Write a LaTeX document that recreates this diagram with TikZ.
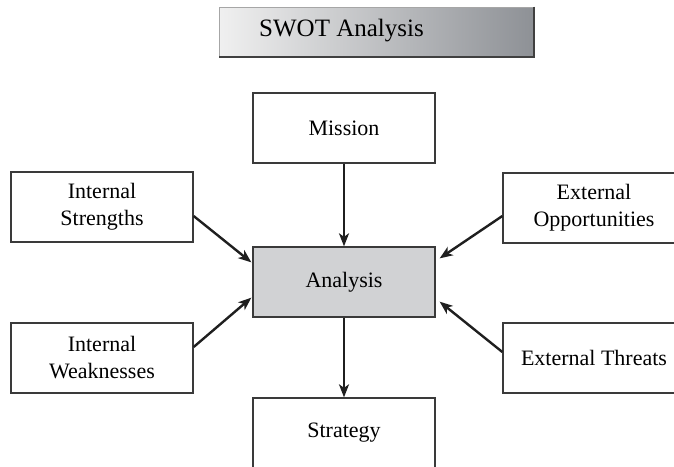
\documentclass[tikz,border=0pt]{standalone}
\usepackage{fontspec}
\setmainfont{Liberation Serif}
\usetikzlibrary{arrows.meta,positioning}
\definecolor{keret}{HTML}{3A3A3A}
\definecolor{elemzes}{HTML}{D1D2D4}
\definecolor{cimbal}{HTML}{F0F0F0}
\definecolor{cimjobb}{HTML}{8E9196}
\tikzset{
  doboz/.style={draw=keret,line width=1.3pt,fill=white,minimum width=182pt,
    minimum height=70pt,inner sep=0pt,align=center,
    font=\fontsize{22}{27}\selectfont},
  kozep/.style={doboz,fill=elemzes},
  cim/.style={draw=gray!70,line width=1pt,left color=cimbal,right color=cimjobb,
    minimum width=314pt,minimum height=49pt,inner sep=0pt},
  nyilas/.style={line width=2.4pt,draw=black!88,
    -{Stealth[length=13pt,width=10pt,inset=3.5pt]}},
}
\begin{document}
\begin{tikzpicture}[x=1pt,y=-1pt]
  \useasboundingbox (0,0) rectangle (674,466);
  \clip (0,0) rectangle (674,466);
  % cim
  \node[cim] (cimdoboz) at (376,31.5) {};
  \draw[line width=2pt,draw=black!75] (cimdoboz.north east) -- (cimdoboz.south east)
    -- (cimdoboz.south west);
  \node[font=\fontsize{25}{30}\selectfont] (cimszoveg) at (341.5,31) {SWOT Analysis};
  % dobozok
  \node[doboz] (kuldetes) at (344,128) {Mission};
  \node[kozep] (elemz) at (344,282) {Analysis};
  \node[doboz] (strat) at (344,433) {Strategy};
  \node[doboz] (erosseg) at (102,207) {Internal\\Strengths};
  \node[doboz] (gyenge) at (102,358) {Internal\\Weaknesses};
  \node[doboz] (lehet) at (594,208) {External\\Opportunities};
  \node[doboz] (veszely) at (594,358) {External Threats};
  % nyilak
  \draw[nyilas] (kuldetes.south) -- (elemz.north);
  \draw[nyilas] (elemz.south) -- (strat.north);
  \draw[nyilas] ([yshift=-9pt]erosseg.east) -- ([xshift=-1pt,yshift=-16pt]elemz.north west);
  \draw[nyilas] ([yshift=11pt]gyenge.east) -- ([xshift=-1pt,yshift=20pt]elemz.south west);
  \draw[nyilas] ([yshift=-8pt]lehet.west) -- ([xshift=4pt,yshift=-12pt]elemz.north east);
  \draw[nyilas] ([yshift=6pt]veszely.west) -- ([xshift=4pt,yshift=16pt]elemz.south east);
\end{tikzpicture}
\end{document}
